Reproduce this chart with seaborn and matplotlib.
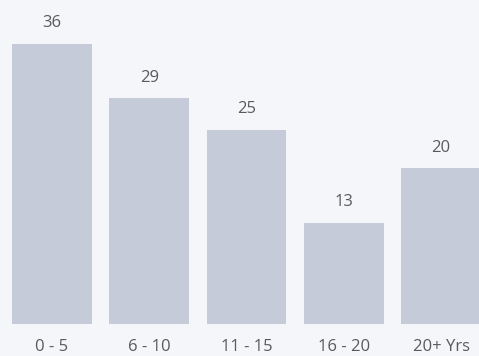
import matplotlib
matplotlib.use("Agg")
import matplotlib.pyplot as plt
import seaborn as sns
import pandas as pd

# tenure buckets and counts
categories = ["0 - 5", "6 - 10", "11 - 15", "16 - 20", "20+ Yrs"]
counts = [36, 29, 25, 13, 20]

bg = "#f4f6fa"
bar_color = "#c5cbd8"
text_color = "#5a5a5a"

sns.set_style("white")
plt.rcParams['font.family'] = ['Open Sans', 'DejaVu Sans']

df = pd.DataFrame({"tenure": categories, "count": counts})

fig = plt.figure(figsize=(4.79, 3.56), dpi=100, facecolor=bg)
ax = fig.add_axes([0, 0.0899, 1, 0.874])
ax.set_facecolor(bg)

sns.barplot(data=df, x="tenure", y="count", color=bar_color, width=0.82,
            saturation=1, linewidth=0, ax=ax)

for i, v in enumerate(counts):
    ax.annotate(str(v), (i, v), xytext=(0, 9), textcoords="offset points",
                ha="center", va="bottom", fontsize=12, color=text_color)

ax.set_xlim(-0.534, 4.39)
ax.set_ylim(0, 40)
ax.set_xlabel("")
ax.set_ylabel("")
ax.set_yticks([])
ax.tick_params(axis="x", length=0, pad=11, labelsize=12, labelcolor=text_color)
sns.despine(ax=ax, left=True, bottom=True, top=True, right=True)

fig.savefig("out.png", dpi=100, facecolor=bg)
